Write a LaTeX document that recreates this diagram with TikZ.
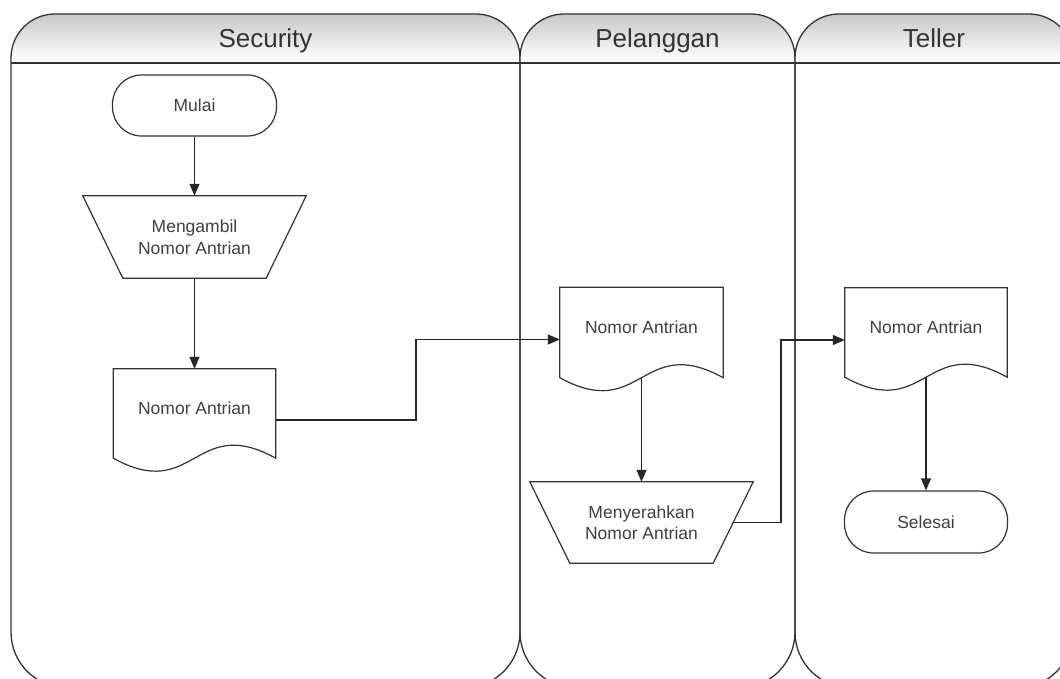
\documentclass[tikz,border=0pt]{standalone}
\usepackage{fontspec}
\setmainfont{Liberation Sans}
\usetikzlibrary{arrows.meta,calc}

\definecolor{ink}{HTML}{333333}
\definecolor{txt}{HTML}{404040}
\definecolor{hdr}{HTML}{C8C8C8}

\tikzset{
  lane/.style={draw=ink, line width=1.3pt},
  laneline/.style={draw=ink, line width=1.8pt},
  lanetitle/.style={text=ink, font=\fontsize{26}{30}\selectfont, inner sep=0pt, anchor=base},
  nodefont/.style={text=txt, font=\fontsize{17.5}{21.5}\selectfont},
  terminal/.style={nodefont, draw=ink, line width=1.2pt, rounded corners=29pt,
    minimum width=164pt, minimum height=61pt, inner sep=0pt},
  iobox/.style={nodefont, align=center, minimum width=223pt, minimum height=82pt, inner sep=0pt},
  docbox/.style={nodefont, minimum width=162pt, minimum height=89pt, inner sep=0pt,
    text height=13pt, text depth=12pt},
  outline/.style={draw=ink, line width=1.2pt, line join=miter},
  flow/.style={draw=black!85, line width=1.2pt, -{Triangle[length=12pt,width=10pt]}},
}

% one swimlane: left x, right x, title, node name
\newcommand{\swimlane}[4]{%
  \begin{scope}
    \clip (#1,300) [rounded corners=44pt] -- (#1,14) -- (#2,14) -- (#2,300) -- cycle;
    \shade[top color=hdr, bottom color=white] (#1,14) rectangle (#2,61);
  \end{scope}
  \draw[laneline] (#1,63) -- (#2,63);
  \draw[lane] (#1,300) [rounded corners=44pt] -- (#1,14) -- (#2,14) -- (#2,300)
    [rounded corners=56pt] -- (#2,688) -- (#1,688) -- cycle;
  \node[lanetitle] (#4) at ({(#1+#2)/2},48) {#3};
}

% document symbol with a wavy lower edge
\newcommand{\docoutline}[1]{%
  \draw[outline] (#1.south east) -- (#1.north east) -- (#1.north west) -- (#1.south west)
    .. controls ($(#1.south)+(0,45)$) and ($(#1.south)+(0,-45)$) .. (#1.south east) -- cycle;
}

% manual operation symbol (wide top, narrow bottom)
\newcommand{\manualoutline}[1]{%
  \draw[outline] (#1.north west) -- (#1.north east) -- ($(#1.south east)+(-40,0)$)
    -- ($(#1.south west)+(40,0)$) -- cycle;
}

\begin{document}
\begin{tikzpicture}[x=1pt,y=-1pt]
\useasboundingbox (0,0) rectangle (1060,679);
\clip (0,0) rectangle (1060,679);
\fill[white] (0,0) rectangle (1060,679);

% lanes
\swimlane{11}{520}{Security}{laneSecurity}
\swimlane{520}{795}{Pelanggan}{lanePelanggan}
\swimlane{795}{1073}{Teller}{laneTeller}

% Security
\node[terminal] (mulai) at (194.5,105.5) {Mulai};
\node[iobox] (ambil) at (194.5,237) {Mengambil\\Nomor Antrian};
\manualoutline{ambil}
\node[docbox] (doc1) at (194.5,413.5) {Nomor Antrian};
\docoutline{doc1}

% Pelanggan
\node[docbox, minimum width=163pt, minimum height=90pt] (doc2) at (641.5,332.5) {Nomor Antrian};
\docoutline{doc2}
\node[iobox, minimum height=81pt] (serah) at (641.5,522.5) {Menyerahkan\\Nomor Antrian};
\manualoutline{serah}

% Teller
\node[docbox] (doc3) at (926,332.5) {Nomor Antrian};
\docoutline{doc3}
\node[terminal, minimum width=163pt, minimum height=62pt] (selesai) at (926,522) {Selesai};

% connectors
\coordinate (d1out) at ($(doc1.east)+(0,6.5)$);
\coordinate (d2in) at ($(doc2.west)+(0,7)$);
\coordinate (sout) at ($(serah.east)+(-20,0)$);
\coordinate (d3in) at ($(doc3.west)+(0,7.5)$);
\coordinate (bend1) at (416,0);
\coordinate (bend2) at (781,0);

\draw[flow] (mulai.south) -- (ambil.north);
\draw[flow] (ambil.south) -- (doc1.north);
\draw[flow] (d1out) -- (d1out -| bend1) |- (d2in);
\draw[flow] (doc2.south) -- (serah.north);
\draw[flow] (sout) -- (sout -| bend2) |- (d3in);
\draw[flow] (doc3.south) -- (selesai.north);
\end{tikzpicture}
\end{document}
